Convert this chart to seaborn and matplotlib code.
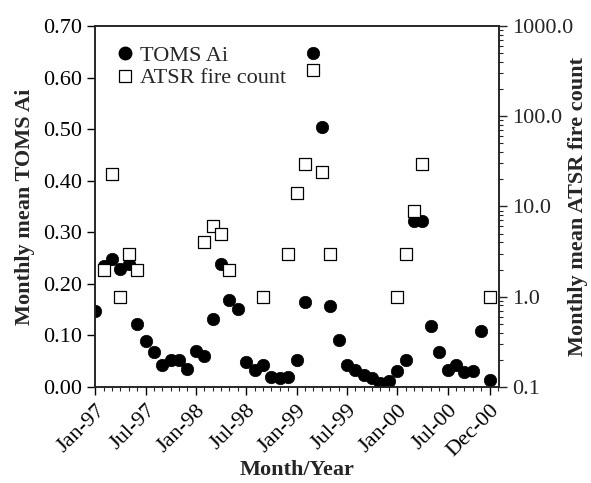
import numpy as np
import pandas as pd
import seaborn as sns
import matplotlib.pyplot as plt
from matplotlib.ticker import FixedLocator, MultipleLocator, LogLocator, FuncFormatter, NullFormatter

# month index 0 = Jan-97 ... 47 = Dec-00
toms_month = list(range(48))
toms_ai = [0.148, 0.234, 0.248, 0.228, 0.238, 0.122, 0.089, 0.068, 0.043, 0.052, 0.053, 0.035,
           0.070, 0.059, 0.132, 0.238, 0.169, 0.152, 0.048, 0.032, 0.043, 0.019, 0.018, 0.019,
           0.053, 0.165, 0.647, 0.504, 0.157, 0.090, 0.043, 0.032, 0.024, 0.017, 0.008, 0.011,
           0.030, 0.053, 0.321, 0.321, 0.119, 0.068, 0.032, 0.042, 0.028, 0.030, 0.109, 0.013]

atsr_month = [1, 2, 3, 4, 5, 13, 14, 15, 16, 20, 23, 24, 25, 26, 27, 28, 36, 37, 38, 39, 47]
atsr_fire = [2.0, 23.0, 1.0, 3.0, 2.0, 4.0, 6.0, 5.0, 2.0, 1.0, 3.0, 14.0, 29.5, 330.0, 24.0, 3.0,
             1.0, 3.0, 9.0, 29.5, 1.0]

tick_months = [0, 6, 12, 18, 24, 30, 36, 42, 47]
tick_labels = ['Jan-97', 'Jul-97', 'Jan-98', 'Jul-98', 'Jan-99', 'Jul-99', 'Jan-00', 'Jul-00', 'Dec-00']

toms_df = pd.DataFrame({'month': toms_month, 'ai': toms_ai})
atsr_df = pd.DataFrame({'month': atsr_month, 'fire': atsr_fire})

sns.set_style('ticks')
plt.rcParams['font.family'] = ['Liberation Serif', 'DejaVu Serif']
plt.rcParams['axes.linewidth'] = 1.2

fs = 16

fig = plt.figure(figsize=(5.91, 4.83), dpi=100)
ax = fig.add_axes([0.161, 0.199, 0.683, 0.747])
ax2 = ax.twinx()

sns.scatterplot(data=toms_df, x='month', y='ai', ax=ax, color='black', s=80,
                edgecolor='black', linewidth=0.5, marker='o', zorder=3, legend=False)
sns.scatterplot(data=atsr_df, x='month', y='fire', ax=ax2, color='white', s=80,
                edgecolor='black', linewidth=0.9, marker='s', zorder=3, legend=False)

ax.set_xlim(0, 48.1)
ax.set_ylim(0, 0.70)
ax.yaxis.set_major_locator(MultipleLocator(0.1))
ax.yaxis.set_major_formatter(FuncFormatter(lambda v, p: f'{v:.2f}'))
ax.xaxis.set_major_locator(FixedLocator(tick_months))
ax.xaxis.set_minor_locator(MultipleLocator(1))
ax.set_xticklabels(tick_labels, rotation=45, ha='right', rotation_mode='anchor')
ax.tick_params(axis='both', labelsize=fs, direction='out', length=6, width=1, colors='black')
ax.tick_params(axis='x', which='minor', length=3, width=0.8)
ax.tick_params(axis='x', pad=4)

ax2.set_yscale('log')
ax2.set_ylim(0.1, 1000)
ax2.yaxis.set_major_locator(LogLocator(base=10, numticks=10))
ax2.yaxis.set_minor_locator(LogLocator(base=10, subs=np.arange(2, 10), numticks=10))
ax2.yaxis.set_minor_formatter(NullFormatter())
ax2.yaxis.set_major_formatter(FuncFormatter(lambda v, p: f'{v:.1f}'))
ax2.tick_params(axis='y', labelsize=fs, direction='out', length=6, width=1)
ax2.tick_params(axis='y', which='minor', length=3, width=0.8)

for a in (ax, ax2):
    for s in a.spines.values():
        s.set_visible(True)
        s.set_linewidth(1.2)

ax.set_xlabel('Month/Year', fontsize=fs, fontweight='bold', labelpad=0)
ax.set_ylabel('Monthly mean TOMS Ai', fontsize=fs, fontweight='bold', labelpad=6)
ax2.set_ylabel('Monthly mean ATSR fire count', fontsize=fs, fontweight='bold', labelpad=-4)

h1 = plt.Line2D([], [], marker='o', color='black', linestyle='none', markersize=9)
h2 = plt.Line2D([], [], marker='s', markerfacecolor='white', markeredgecolor='black',
                linestyle='none', markersize=8.5, markeredgewidth=0.9)
ax.legend([h1, h2], ['TOMS Ai', 'ATSR fire count'], loc='upper left', frameon=False,
          fontsize=fs, handletextpad=0.15, borderaxespad=0.45, labelspacing=0.1, handlelength=1.0,
          borderpad=0.4)

fig.savefig('out.png', dpi=100)
